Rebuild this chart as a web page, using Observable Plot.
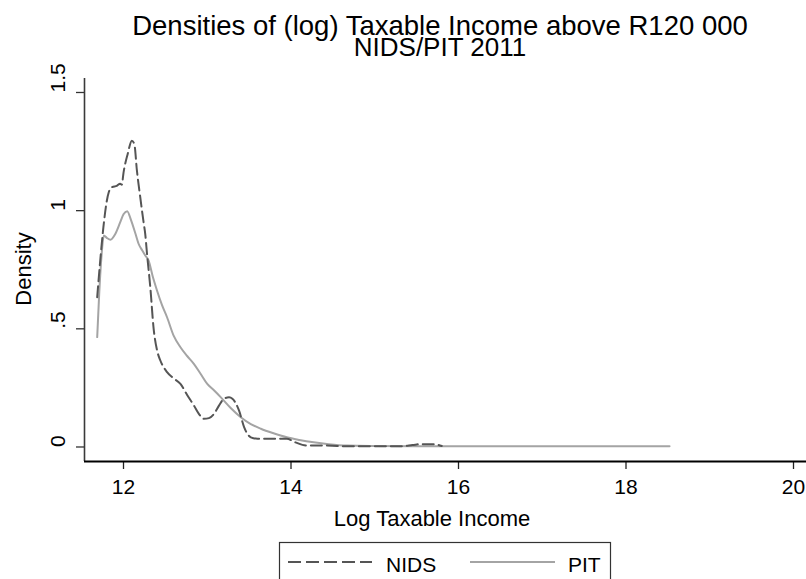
<!DOCTYPE html>
<html><head><meta charset="utf-8">
<script src="https://cdn.jsdelivr.net/npm/d3@7"></script>
<script src="https://cdn.jsdelivr.net/npm/@observablehq/plot@0.6"></script>
<style>
body{margin:0;background:#fff;overflow:hidden;}
#chart{position:relative;width:806px;height:579px;overflow:hidden;font-family:"Liberation Sans",Arial,sans-serif;}
#chart svg{display:block;}
</style>
</head><body><div id="chart"></div>
<script>
// ---- data ----
const titleLines = ["Densities of (log) Taxable Income above R120 000", "NIDS/PIT 2011"];
const xTitle = "Log Taxable Income";
const yTitle = "Density";
const seriesNames = ["NIDS", "PIT"];
const xTicks = [12, 14, 16, 18, 20];
const yTicks = [0, 0.5, 1, 1.5];
const yTickLabels = ["0", ".5", "1", "1.5"];

const nidsX = [11.686, 11.72, 11.76, 11.80, 11.824, 11.865, 11.92, 11.96, 11.98, 12.00, 12.05, 12.10, 12.13, 12.16, 12.20, 12.24, 12.26, 12.28, 12.32, 12.36, 12.40, 12.44, 12.52, 12.60, 12.68, 12.76, 12.84, 12.90, 12.96, 13.02, 13.08, 13.14, 13.20, 13.26, 13.30, 13.38, 13.44, 13.52, 13.60, 13.72, 13.95, 14.05, 14.19, 14.43, 14.67, 15.0, 15.3, 15.45, 15.55, 15.7, 15.8];
const nidsY = [0.634, 0.78, 0.93, 1.04, 1.078, 1.10, 1.105, 1.114, 1.11, 1.16, 1.24, 1.296, 1.28, 1.17, 1.057, 0.95, 0.90, 0.82, 0.676, 0.50, 0.41, 0.366, 0.317, 0.29, 0.267, 0.22, 0.176, 0.14, 0.119, 0.122, 0.14, 0.175, 0.204, 0.21, 0.204, 0.154, 0.084, 0.041, 0.035, 0.035, 0.035, 0.02, 0.006, 0.006, 0.003, 0.003, 0.003, 0.008, 0.012, 0.012, 0.004];

const pitX = [11.686, 11.71, 11.74, 11.765, 11.80, 11.845, 11.90, 11.96, 12.00, 12.044, 12.09, 12.143, 12.18, 12.223, 12.26, 12.30, 12.35, 12.40, 12.46, 12.52, 12.60, 12.68, 12.76, 12.84, 12.92, 13.00, 13.08, 13.16, 13.28, 13.40, 13.52, 13.64, 13.80, 13.95, 14.10, 14.27, 14.45, 14.67, 15.0, 15.5, 16.0, 17.0, 18.0, 18.52];
const pitY = [0.465, 0.65, 0.82, 0.895, 0.885, 0.877, 0.90, 0.95, 0.985, 0.998, 0.96, 0.902, 0.86, 0.832, 0.81, 0.789, 0.72, 0.662, 0.60, 0.549, 0.47, 0.422, 0.385, 0.352, 0.31, 0.267, 0.24, 0.211, 0.165, 0.126, 0.097, 0.077, 0.057, 0.041, 0.03, 0.020, 0.012, 0.006, 0.004, 0.003, 0.003, 0.003, 0.003, 0.003];

// ---- build ----
const nids = nidsX.map((x, i) => ({x, y: nidsY[i]}));
const pit = pitX.map((x, i) => ({x, y: pitY[i]}));
const FONT = '"Liberation Sans", Arial, sans-serif';
const NIDS_COLOR = "#555555", PIT_COLOR = "#a4a4a4";
const xDom = [11.5343, 20.1552], yDom = [-0.0614, 1.5592];

const svg = Plot.plot({
  width: 806, height: 579,
  marginLeft: 84, marginRight: 0, marginTop: 78, marginBottom: 118,
  style: {fontFamily: FONT, background: "#fff", color: "#000"},
  x: {domain: xDom},
  y: {domain: yDom},
  marks: [
    Plot.line(pit, {x: "x", y: "y", stroke: PIT_COLOR, strokeWidth: 2, curve: "monotone-x"}),
    Plot.line(nids, {x: "x", y: "y", stroke: NIDS_COLOR, strokeWidth: 2, strokeDasharray: "11,5", curve: "monotone-x"}),
    Plot.axisX({ticks: xTicks, tickSize: 8, tickPadding: 10, fontSize: 21, label: null, stroke: "#222", strokeWidth: 1.3, fill: "#000"}),
    Plot.axisY({ticks: yTicks, tickSize: 8, tickFormat: () => "", label: null, stroke: "#333", strokeWidth: 1.3}),
    Plot.text(yTicks, {y: d => d, text: (d, i) => yTickLabels[i], frameAnchor: "left", dx: -26, rotate: -90, fontSize: 21, fill: "#000"}),
    Plot.ruleX([xDom[0]], {stroke: "#3a3a3a", strokeWidth: 1.6}),
    Plot.ruleY([yDom[0]], {stroke: "#000", strokeWidth: 2.2})
  ]
});
document.getElementById("chart").appendChild(svg);

const s = d3.select(svg);
function txt(x, y, str, size, anchor) {
  return s.append("text").attr("x", x).attr("y", y).attr("text-anchor", anchor)
    .attr("font-size", size).attr("font-family", FONT).attr("fill", "#000").text(str);
}
// title
txt(440, 35, titleLines[0], 27.5, "middle");
txt(440, 56, titleLines[1], 26, "middle");
// axis titles
txt(432, 526, xTitle, 22, "middle");
s.append("text").attr("transform", "translate(31,269) rotate(-90)").attr("text-anchor", "middle")
  .attr("font-size", 22).attr("font-family", FONT).attr("fill", "#000").text(yTitle);
// legend
const lg = s.append("g");
lg.append("rect").attr("x", 279.5).attr("y", 542.5).attr("width", 331).attr("height", 60)
  .attr("fill", "#fff").attr("stroke", "#333").attr("stroke-width", 1.2);
lg.append("line").attr("x1", 288).attr("x2", 372).attr("y1", 562).attr("y2", 562)
  .attr("stroke", NIDS_COLOR).attr("stroke-width", 2).attr("stroke-dasharray", "13,5");
lg.append("line").attr("x1", 470).attr("x2", 555).attr("y1", 562).attr("y2", 562)
  .attr("stroke", PIT_COLOR).attr("stroke-width", 2);
txt(386, 572, seriesNames[0], 21, "start");
txt(568, 572, seriesNames[1], 21, "start");
</script>
</body></html>
